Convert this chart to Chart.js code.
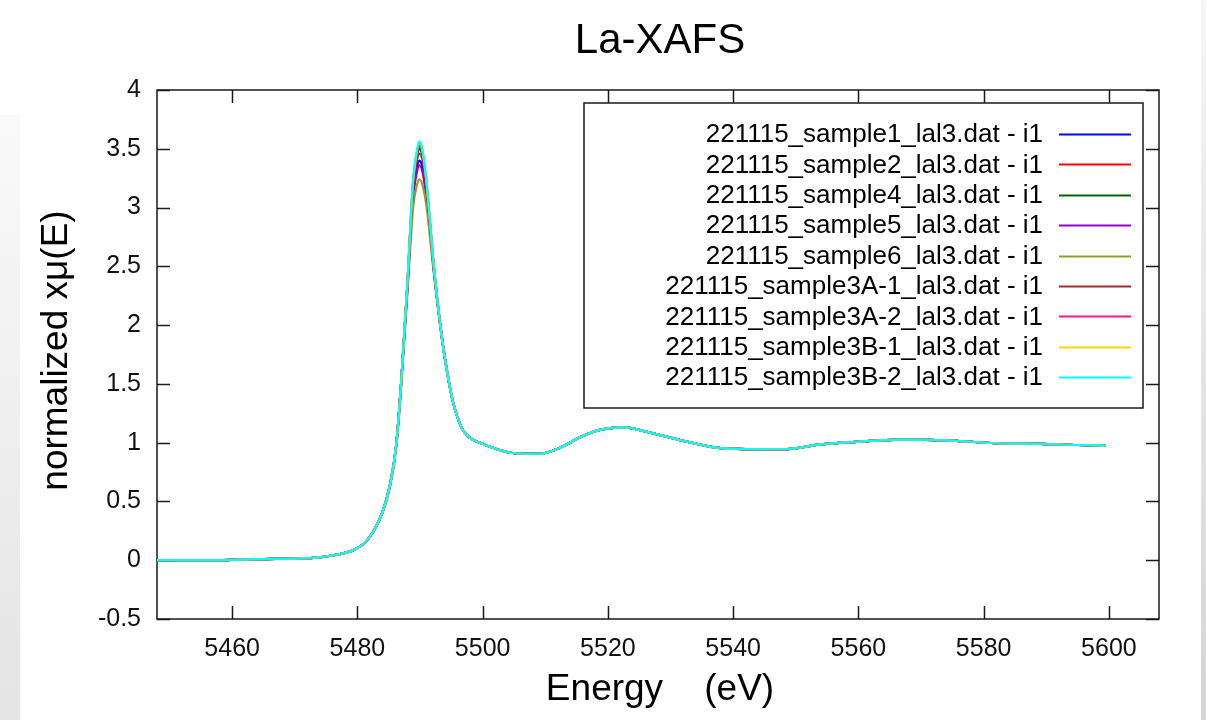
<!DOCTYPE html>
<html>
<head>
<meta charset="utf-8">
<script src="https://cdn.jsdelivr.net/npm/chart.js@4.4.1/dist/chart.umd.min.js"></script>
<style>
  body { margin: 0; background: #fff; }
  canvas { display: block; }
</style>
</head>
<body>
<canvas id="xafsChart" width="1206" height="720"></canvas>
<script>
// Energy grid (eV) and normalized absorption of each scan
const energy = [5448, 5455, 5460, 5465, 5470, 5474, 5476, 5478, 5479.5, 5481, 5482.5, 5484, 5485.2, 5486.2, 5487, 5488, 5488.9, 5489.5, 5489.9, 5490.4, 5491, 5492.3, 5493.6, 5494.5, 5495.2, 5496.6, 5498, 5500, 5502.5, 5505, 5509, 5512.5, 5515.7, 5518.4, 5522.6, 5526.4, 5531.7, 5537, 5542, 5548, 5554, 5559, 5567, 5574, 5582, 5589, 5595, 5599.5];

const sample1   = [0, 0, 0.003, 0.010, 0.014, 0.025, 0.04, 0.062, 0.09, 0.14, 0.24, 0.41, 0.64, 0.98, 1.52, 2.33, 3.12, 3.34, 3.40, 3.34, 3.12, 2.42, 1.85, 1.55, 1.36, 1.13, 1.04, 0.99, 0.94, 0.91, 0.905, 0.96, 1.05, 1.105, 1.13, 1.09, 1.02, 0.96, 0.945, 0.944, 0.985, 1.005, 1.026, 1.02, 0.995, 0.99, 0.98, 0.975];
const sample2   = [0, 0, 0.003, 0.010, 0.014, 0.025, 0.04, 0.062, 0.09, 0.14, 0.24, 0.41, 0.64, 0.98, 1.52, 2.37, 3.21, 3.45, 3.52, 3.45, 3.21, 2.44, 1.85, 1.55, 1.36, 1.13, 1.04, 0.99, 0.94, 0.91, 0.905, 0.96, 1.05, 1.105, 1.13, 1.09, 1.02, 0.96, 0.945, 0.944, 0.985, 1.005, 1.026, 1.02, 0.995, 0.99, 0.98, 0.975];
const sample4   = [0, 0, 0.003, 0.010, 0.014, 0.025, 0.04, 0.062, 0.09, 0.14, 0.24, 0.41, 0.64, 0.98, 1.52, 2.36, 3.20, 3.44, 3.50, 3.44, 3.20, 2.44, 1.85, 1.55, 1.36, 1.13, 1.04, 0.99, 0.94, 0.91, 0.905, 0.96, 1.05, 1.105, 1.13, 1.09, 1.02, 0.96, 0.945, 0.944, 0.985, 1.005, 1.026, 1.02, 0.995, 0.99, 0.98, 0.975];
const sample5   = [0, 0, 0.003, 0.010, 0.014, 0.025, 0.04, 0.062, 0.09, 0.14, 0.24, 0.41, 0.64, 0.98, 1.52, 2.32, 3.09, 3.30, 3.36, 3.30, 3.09, 2.41, 1.85, 1.55, 1.36, 1.13, 1.04, 0.99, 0.94, 0.91, 0.905, 0.96, 1.05, 1.105, 1.13, 1.09, 1.02, 0.96, 0.945, 0.944, 0.985, 1.005, 1.026, 1.02, 0.995, 0.99, 0.98, 0.975];
const sample6   = [0, 0, 0.003, 0.010, 0.014, 0.025, 0.04, 0.062, 0.09, 0.14, 0.24, 0.40, 0.62, 0.95, 1.47, 2.28, 3.00, 3.19, 3.24, 3.19, 3.02, 2.40, 1.85, 1.55, 1.36, 1.13, 1.04, 0.99, 0.94, 0.91, 0.905, 0.96, 1.05, 1.105, 1.13, 1.09, 1.02, 0.96, 0.945, 0.944, 0.985, 1.005, 1.026, 1.02, 0.995, 0.99, 0.98, 0.975];
const sample3A1 = [0, 0, 0.003, 0.010, 0.014, 0.025, 0.04, 0.062, 0.09, 0.14, 0.24, 0.41, 0.64, 0.98, 1.52, 2.35, 3.17, 3.40, 3.46, 3.40, 3.17, 2.43, 1.85, 1.55, 1.36, 1.13, 1.04, 0.99, 0.94, 0.91, 0.905, 0.96, 1.05, 1.105, 1.13, 1.09, 1.02, 0.96, 0.945, 0.944, 0.985, 1.005, 1.026, 1.02, 0.995, 0.99, 0.98, 0.975];
const sample3A2 = [0, 0, 0.003, 0.010, 0.014, 0.025, 0.04, 0.062, 0.09, 0.14, 0.24, 0.41, 0.64, 0.98, 1.52, 2.37, 3.22, 3.46, 3.53, 3.46, 3.22, 2.45, 1.85, 1.55, 1.36, 1.13, 1.04, 0.99, 0.94, 0.91, 0.905, 0.96, 1.05, 1.105, 1.13, 1.09, 1.02, 0.96, 0.945, 0.944, 0.985, 1.005, 1.026, 1.02, 0.995, 0.99, 0.98, 0.975];
const sample3B1 = [0, 0, 0.003, 0.010, 0.014, 0.025, 0.04, 0.062, 0.09, 0.14, 0.24, 0.41, 0.64, 0.98, 1.52, 2.38, 3.23, 3.48, 3.55, 3.48, 3.23, 2.45, 1.85, 1.55, 1.36, 1.13, 1.04, 0.99, 0.94, 0.91, 0.905, 0.96, 1.05, 1.105, 1.13, 1.09, 1.02, 0.96, 0.945, 0.944, 0.985, 1.005, 1.026, 1.02, 0.995, 0.99, 0.98, 0.975];
const sample3B2 = [0, 0, 0.003, 0.010, 0.014, 0.025, 0.04, 0.062, 0.09, 0.14, 0.24, 0.41, 0.64, 0.98, 1.52, 2.38, 3.24, 3.49, 3.56, 3.49, 3.24, 2.45, 1.85, 1.55, 1.36, 1.13, 1.04, 0.99, 0.94, 0.91, 0.905, 0.96, 1.05, 1.105, 1.13, 1.09, 1.02, 0.96, 0.945, 0.944, 0.985, 1.005, 1.026, 1.02, 0.995, 0.99, 0.98, 0.975];

const seriesLabels = [
  '221115_sample1_lal3.dat - i1',
  '221115_sample2_lal3.dat - i1',
  '221115_sample4_lal3.dat - i1',
  '221115_sample5_lal3.dat - i1',
  '221115_sample6_lal3.dat - i1',
  '221115_sample3A-1_lal3.dat - i1',
  '221115_sample3A-2_lal3.dat - i1',
  '221115_sample3B-1_lal3.dat - i1',
  '221115_sample3B-2_lal3.dat - i1'
];
const seriesValues = [sample1, sample2, sample4, sample5, sample6, sample3A1, sample3A2, sample3B1, sample3B2];
const seriesColors = ['#0000ff', '#ff0000', '#006400', '#9400d3', '#9a9a2a', '#a52a2a', '#ff1493', '#ffd700', '#00ffff'];

const xTicks = [5460, 5480, 5500, 5520, 5540, 5560, 5580, 5600];
const yTicks = [-0.5, 0, 0.5, 1, 1.5, 2, 2.5, 3, 3.5, 4];

const FONT = "'Liberation Sans', Arial, sans-serif";

// page background with the grey strips at both edges
const backdrop = {
  id: 'backdrop',
  beforeDraw(chart) {
    const ctx = chart.ctx;
    ctx.save();
    ctx.fillStyle = '#fff';
    ctx.fillRect(0, 0, chart.width, chart.height);
    let g = ctx.createLinearGradient(0, 115, 0, 720);
    g.addColorStop(0, '#fafafa');
    g.addColorStop(1, '#e4e4e4');
    ctx.fillStyle = g;
    ctx.fillRect(0, 115, 20, 605);
    g = ctx.createLinearGradient(0, 0, 0, 720);
    g.addColorStop(0, '#f6f6f6');
    g.addColorStop(1, '#d4d4d4');
    ctx.fillStyle = g;
    ctx.fillRect(1201, 0, 5, 720);
    ctx.restore();
  }
};

// gnuplot style frame: border on four sides, ticks pointing inward (mirrored)
const frame = {
  id: 'frame',
  beforeDatasetsDraw(chart) {
    const ctx = chart.ctx;
    const a = chart.chartArea;
    const xs = chart.scales.x, ys = chart.scales.y;
    const tl = 13;
    ctx.save();
    ctx.strokeStyle = '#1a1a1a';
    ctx.lineWidth = 1.5;
    ctx.strokeRect(a.left, a.top, a.right - a.left, a.bottom - a.top);
    ctx.beginPath();
    xTicks.forEach(v => {
      const px = Math.round(xs.getPixelForValue(v)) + 0.5;
      ctx.moveTo(px, a.bottom); ctx.lineTo(px, a.bottom - tl);
      ctx.moveTo(px, a.top); ctx.lineTo(px, a.top + tl);
    });
    yTicks.forEach(v => {
      const py = Math.round(ys.getPixelForValue(v)) + 0.5;
      ctx.moveTo(a.left, py); ctx.lineTo(a.left + tl, py);
      ctx.moveTo(a.right, py); ctx.lineTo(a.right - tl, py);
    });
    ctx.stroke();
    ctx.restore();
  }
};

// title, axis titles and the boxed key, drawn like gnuplot places them
const labels = {
  id: 'labels',
  afterDraw(chart) {
    const ctx = chart.ctx;
    const a = chart.chartArea;
    const cx = (a.left + a.right) / 2 + 2;
    ctx.save();
    ctx.fillStyle = '#000';
    ctx.textAlign = 'center';
    ctx.textBaseline = 'alphabetic';
    ctx.font = '42px ' + FONT;
    ctx.fillText('La-XAFS', cx, 53);
    ctx.font = '37px ' + FONT;
    ctx.fillText('Energy    (eV)', cx, 700);
    ctx.save();
    ctx.translate(67, (a.top + a.bottom) / 2 - 4);
    ctx.rotate(-Math.PI / 2);
    ctx.fillText('normalized xμ(E)', 0, 0);
    ctx.restore();

    // key box
    const bx = 584, by = 103, bw = 559, bh = 305;
    ctx.fillStyle = '#fff';
    ctx.fillRect(bx, by, bw, bh);
    ctx.strokeStyle = '#1a1a1a';
    ctx.lineWidth = 1.5;
    ctx.strokeRect(bx, by, bw, bh);
    ctx.font = '26px ' + FONT;
    ctx.textAlign = 'right';
    ctx.textBaseline = 'middle';
    chart.data.datasets.forEach((ds, i) => {
      const y = 134 + i * 30.4;
      ctx.fillStyle = '#000';
      ctx.fillText(ds.label, 1043, y + 1);
      ctx.strokeStyle = ds.borderColor;
      ctx.lineWidth = 2;
      ctx.beginPath();
      ctx.moveTo(1059, Math.round(y) + 0.5);
      ctx.lineTo(1131, Math.round(y) + 0.5);
      ctx.stroke();
    });
    ctx.restore();
  }
};

const datasets = seriesValues.map((vals, i) => ({
  label: seriesLabels[i],
  data: energy.map((e, j) => ({ x: e, y: vals[j] })),
  borderColor: seriesColors[i],
  backgroundColor: seriesColors[i],
  borderWidth: 2.2,
  pointRadius: 0,
  fill: false,
  cubicInterpolationMode: 'monotone',
  order: seriesValues.length - i
}));

new Chart(document.getElementById('xafsChart'), {
  type: 'line',
  data: { datasets: datasets },
  options: {
    responsive: false,
    animation: false,
    layout: { padding: { left: 0, right: 47, top: 90, bottom: 0 } },
    plugins: {
      legend: { display: false },
      title: { display: false },
      tooltip: { enabled: false }
    },
    scales: {
      x: {
        type: 'linear',
        min: 5448,
        max: 5608,
        afterBuildTicks(scale) { scale.ticks = xTicks.map(v => ({ value: v })); },
        afterFit(scale) { scale.height = 101; },
        grid: { display: false, drawTicks: false },
        border: { display: false },
        ticks: {
          padding: 15,
          color: '#111',
          font: { family: FONT, size: 25 },
          maxRotation: 0,
          callback: v => String(v)
        }
      },
      y: {
        type: 'linear',
        min: -0.5,
        max: 4,
        afterBuildTicks(scale) { scale.ticks = yTicks.map(v => ({ value: v })); },
        afterFit(scale) { scale.width = 157; },
        grid: { display: false, drawTicks: false },
        border: { display: false },
        ticks: {
          padding: 16,
          color: '#111',
          font: { family: FONT, size: 25 },
          callback: v => String(v)
        }
      }
    }
  },
  plugins: [backdrop, frame, labels]
});
</script>
</body>
</html>
